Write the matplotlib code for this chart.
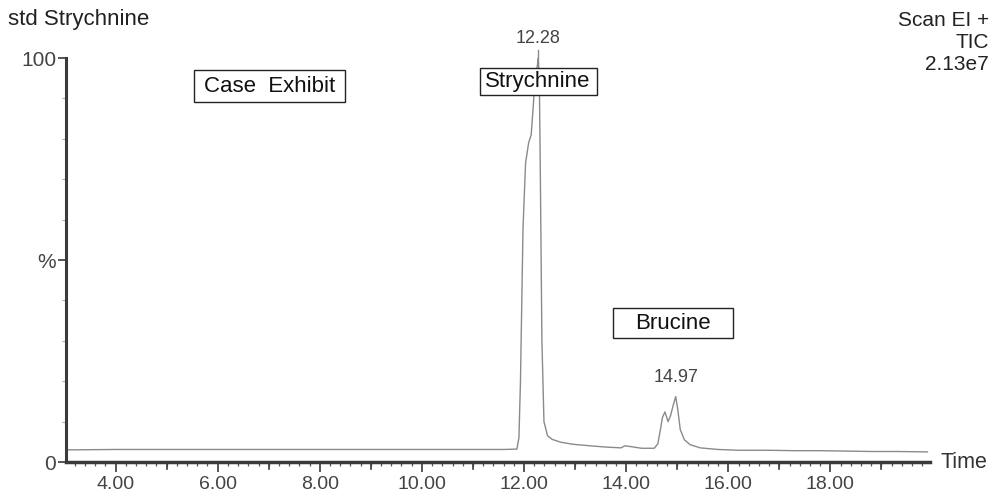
import matplotlib
matplotlib.use("Agg")
import matplotlib.pyplot as plt
from matplotlib.ticker import MultipleLocator, FixedLocator
from matplotlib.patches import Rectangle

plt.rcParams['font.family'] = ['Liberation Sans', 'DejaVu Sans']

# Chromatogram trace (time in min, relative intensity in %)
time = [3.05, 4.0, 5.0, 6.0, 7.0, 8.0, 9.0, 10.0, 11.0, 11.6, 11.86, 11.90, 11.93, 11.98,
        12.03, 12.09, 12.14, 12.18, 12.22, 12.26, 12.28, 12.30, 12.32, 12.35, 12.39,
        12.46, 12.55, 12.72, 12.95, 13.3, 13.6, 13.9, 13.97, 14.1, 14.3, 14.55, 14.62,
        14.67, 14.71, 14.76, 14.82, 14.87, 14.92, 14.97, 15.01, 15.06, 15.14, 15.25,
        15.45, 15.8, 16.2, 16.8, 17.3, 17.8, 18.3, 18.8, 19.3, 19.9]
intensity = [3.0, 3.1, 3.1, 3.1, 3.1, 3.1, 3.1, 3.1, 3.1, 3.1, 3.2, 6.0, 20.0, 58.0,
             74.0, 79.0, 81.0, 88.0, 96.0, 98.0, 100.0, 94.0, 70.0, 30.0, 10.0,
             6.5, 5.6, 4.9, 4.4, 4.0, 3.7, 3.5, 4.0, 3.8, 3.4, 3.4, 4.5,
             8.0, 11.0, 12.4, 10.0, 11.5, 14.0, 16.2, 13.0, 8.0, 5.5, 4.3,
             3.5, 3.1, 2.9, 2.9, 2.8, 2.8, 2.7, 2.6, 2.6, 2.5]

peak_labels = ["12.28", "14.97"]
peak_times = [12.28, 14.97]
peak_heights = [100.0, 16.2]

x_ticks = [4, 6, 8, 10, 12, 14, 16, 18]
x_tick_labels = ["4.00", "6.00", "8.00", "10.00", "12.00", "14.00", "16.00", "18.00"]
y_ticks = [0, 50, 100]
y_tick_labels = ["0", "%", "100"]

fig = plt.figure(figsize=(9.94, 5.01), dpi=100)
ax = fig.add_axes([66/994, (501-462)/501, (930-66)/994, (462-58)/501])

ax.plot(time, intensity, color='#8a8a8a', lw=1.0)
ax.set_xlim(3.03, 19.95)
ax.set_ylim(0, 100)

for s in ['top', 'right']:
    ax.spines[s].set_visible(False)
ax.spines['left'].set_linewidth(2.2)
ax.spines['left'].set_color('#3a3a3a')
ax.spines['bottom'].set_linewidth(2.5)
ax.spines['bottom'].set_color('#3a3a3a')

ax.xaxis.set_major_locator(FixedLocator(x_ticks))
ax.set_xticklabels(x_tick_labels)
ax.xaxis.set_minor_locator(MultipleLocator(0.2))
ax.yaxis.set_major_locator(FixedLocator(y_ticks))
ax.set_yticklabels(y_tick_labels)
ax.yaxis.set_minor_locator(MultipleLocator(10))

ax.tick_params(axis='x', which='major', length=7, width=1.2, color='#3a3a3a',
               labelsize=14, labelcolor='#444444', pad=3)
ax.tick_params(axis='x', which='minor', length=3, width=0.9, color='#555555')
ax.tick_params(axis='y', which='major', length=6, width=1.2, color='#3a3a3a',
               labelsize=15, labelcolor='#444444', pad=1)
ax.tick_params(axis='y', which='minor', length=3, width=0.8, color='#aaaaaa')

# 1-minute medium ticks
for t in range(4, 20):
    if t % 2 == 1:
        ax.plot([t, t], [0, -1.8], color='#3a3a3a', lw=1.2, clip_on=False)

for lbl, t, h in zip(peak_labels, peak_times, peak_heights):
    ax.text(t, h + 2.6, lbl, ha='center', va='bottom', fontsize=13, color='#444444')
ax.plot([12.28, 12.28], [100, 102.0], color='#8a8a8a', lw=1.0, clip_on=False)

boxes = [("Case  Exhibit", 5.54, 8.49, 89.1, 97.0),
         ("Strychnine", 11.13, 13.42, 90.8, 97.5),
         ("Brucine", 13.74, 16.09, 30.7, 38.1)]
for label, x0, x1, y0, y1 in boxes:
    ax.add_patch(Rectangle((x0, y0), x1 - x0, y1 - y0, fill=True, fc='white',
                           ec='#222222', lw=1.0, zorder=3))
    ax.text((x0 + x1) / 2, (y0 + y1) / 2, label, ha='center', va='center',
            fontsize=16, color='#111111', zorder=4)

ax.text(20.15, 0, "Time", ha='left', va='center', fontsize=15.5, color='#333333', clip_on=False)

fig.text(8/994, 1 - 20/501, "std Strychnine", ha='left', va='center', fontsize=16, color='#222222')
fig.text(989/994, 1 - 42/501, "Scan EI +\nTIC\n2.13e7", ha='right', va='center',
         fontsize=15, color='#222222', linespacing=1.2)

fig.savefig("out.png", dpi=100)
